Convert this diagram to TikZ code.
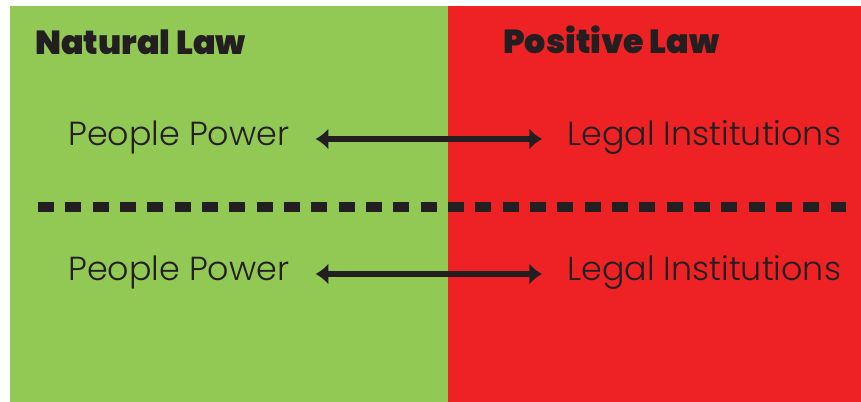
\documentclass[tikz,border=0pt]{standalone}
\usepackage{fontspec}
\setmainfont{Poppins}[UprightFont=* Light, BoldFont=* Bold]
\newfontfamily\heavyfont{Poppins Black}
\usepackage{tikz}
\usetikzlibrary{calc}
\usetikzlibrary{arrows.meta}
\usetikzlibrary{positioning}
\definecolor{natgreen}{RGB}{146,200,84}
\definecolor{posred}{RGB}{238,34,36}
\definecolor{ink}{RGB}{35,31,32}
\tikzset{head/.style={anchor=base west,inner sep=0pt,text=ink,font=\heavyfont\fontsize{25}{29}\selectfont}}
\tikzset{item/.style={anchor=base west,inner sep=0pt,text=ink,font=\fontsize{25}{30}\selectfont}}
\tikzset{link/.style={ink,line width=5pt,{Latex[length=9.5pt,width=16pt]}-{Latex[length=9.5pt,width=16pt]}}}
\tikzset{split/.style={ink,line width=7.5pt,dash pattern=on 12pt off 8.5pt}}

\begin{document}
\begin{tikzpicture}[x=0.75pt,y=-0.75pt]

\useasboundingbox (0,0) rectangle (861,402);
\fill[natgreen] (10,6) rectangle (448,402);
\fill[posred] (448,6) rectangle (861,402);

\node[head] (natural) at (35,55) {Natural Law};
\node[head] (positive) at (503,54) {Positive Law};

\foreach \i/\y in {1/146, 2/281}
  {
 \node[item] (pp\i) at (68,\y) {People Power};
 \node[item] (li\i) at (567,\y) {Legal Institutions};
 \draw[link] ([xshift=19.5pt,yshift=5.25pt]pp\i.base east) -- ([xshift=-18.75pt,yshift=5.25pt]li\i.base west);
 }

\coordinate (dl) at (38,207);
\coordinate (dr) at (846,207);
\draw[split] (dl) -- (dr);

\end{tikzpicture}
\end{document}
